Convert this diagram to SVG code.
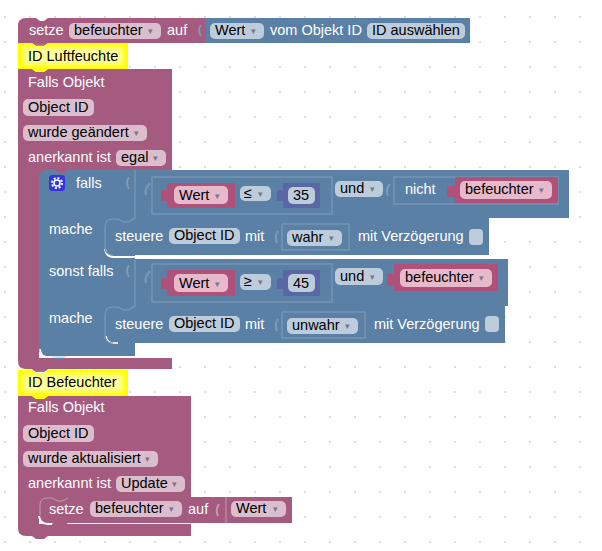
<svg xmlns="http://www.w3.org/2000/svg" width="602" height="551" viewBox="0 0 602 551">
<defs>
<pattern id="grid" width="25" height="25" patternUnits="userSpaceOnUse"><circle cx="5" cy="17" r="1" fill="#d2d2d2"/></pattern>
<filter id="glow" x="-10%" y="-30%" width="120%" height="160%"><feGaussianBlur stdDeviation="2"/></filter>
</defs>
<style>
text{font-family:"Liberation Sans",Arial,sans-serif;font-size:14.5px;fill:#fff}
.d{fill:#000}
.pk{fill:#a55b80}
.bl{fill:#5b80a5}
.pu{fill:#5b67a5}
.hot{fill:#b0517a}
.y{fill:#ffff00}
.fp{fill:#dbbecd}
.fb{fill:#bdccdb}
.fh{fill:#e6b9cb}
.ol{fill:none;stroke:#7c99b7;stroke-width:1.2}
.so{fill:none;stroke:#7c99b7;stroke-width:2}
.hl{fill:none;stroke:#fff;stroke-width:2}
.ar{font-size:9px;fill:#778}
</style>
<rect width="602" height="551" fill="#fff"/>
<rect width="602" height="551" fill="url(#grid)"/>

<g id="set-befeuchter-top">
<path class="pk" d="M26 18H36L40 21H44L48 18H205V43H48L44 46H36L32 43H18V26Q18 18 26 18Z"/>
<path class="bl" d="M205 18H470V43H205Z"/>
<path class="so" d="M201 25Q197 30 201 36"/>
<text x="29" y="35">setze</text>
<rect class="fp" x="69" y="23" width="92" height="16" rx="5"/><text class="d" x="74" y="35">befeuchter</text><text class="ar" x="148" y="34">▾</text>
<text x="167" y="35">auf</text>
<rect class="fb" x="210" y="23" width="54" height="16" rx="5"/><text class="d" x="215" y="35">Wert</text><text class="ar" x="251" y="34">▾</text>
<text x="270" y="35">vom Objekt ID</text>
<rect class="fb" x="367" y="23" width="98" height="16" rx="5"/><text class="d" x="372" y="35">ID auswählen</text>
</g>

<g id="id-luftfeuchte">
<path class="y" d="M18 43H32L36 46H44L48 43H128V69H48L44 72H36L32 69H18Z"/>
<rect x="23" y="47" width="100" height="18" fill="#ffff99" filter="url(#glow)"/>
<text class="d" x="28" y="61">ID Luftfeuchte</text>
</g>

<g id="trigger-luftfeuchte">
<path class="pk" d="M18 69H32L36 72H44L48 69H172V170H72V180H39V358H172V369H48L44 372H36L32 369H26Q18 369 18 361Z"/>
<path class="y" d="M32 69L36 72H44L48 69Z"/>
<text x="28" y="87">Falls Objekt</text>
<rect class="fp" x="23" y="99" width="71" height="17" rx="5"/><text class="d" x="28" y="112">Object ID</text>
<rect class="fp" x="23" y="125" width="124" height="16" rx="5"/><text class="d" x="28" y="137">wurde geändert</text><text class="ar" x="134" y="136">▾</text>
<text x="28" y="162">anerkannt ist</text>
<rect class="fp" x="116" y="150" width="50" height="16" rx="5"/><text class="d" x="121" y="162">egal</text><text class="ar" x="153" y="161">▾</text>
</g>

<g id="if-block">
<path class="bl" d="M47 170H55L59 173H64L68 170H569V218H489V255H135V259H508V306H505V343H135V356H67L63 359H55L51 356H47Q39 356 39 348V178Q39 170 47 170Z"/>
<path class="hl" d="M40 349Q41 357 48 357H135" style="stroke-width:1.5"/>
<path d="M105 249Q106 257 114 257H489" fill="none" stroke="#fff" stroke-width="2"/>
<path d="M106 336Q107 343 114 343H118" fill="none" stroke="#fff" stroke-width="1.5"/>
<path class="ol" d="M135 170V218M135 259V306"/>
<path class="so" d="M129 177Q125 183 129 189M129 265Q125 271 129 277"/>
<rect x="49" y="175" width="16" height="16" rx="3" fill="#3535dd"/>
<circle cx="57" cy="183" r="5" fill="none" stroke="#fff" stroke-width="2" stroke-dasharray="2 1.9"/>
<circle cx="57" cy="183" r="3" fill="none" stroke="#fff" stroke-width="1.6"/>
<text x="76" y="188">falls</text>
<text x="49" y="234">mache</text>
<text x="49" y="276">sonst falls</text>
<text x="49" y="323">mache</text>
</g>

<g id="cond-1">
<rect class="ol" x="152" y="177" width="180" height="37"/>
<path class="so" d="M150 183Q144 190 146 195"/>
<path class="hot" d="M167 183H235V208H167V201H161V190H167Z"/>
<rect class="fh" x="174" y="186" width="54" height="18" rx="5"/><text class="d" x="179" y="200">Wert</text><text class="ar" x="215" y="199">▾</text>
<rect class="fb" x="240" y="186" width="31" height="15" rx="5"/><text class="d" x="244" y="198">≤</text><text class="ar" x="258" y="197">▾</text>
<path class="pu" d="M283 183H320V208H283V201H277V190H283Z"/>
<rect class="fb" x="288" y="187" width="27" height="17" rx="5"/><text class="d" x="293" y="200">35</text>
<rect class="fb" x="335" y="181" width="48" height="16" rx="5"/><text class="d" x="340" y="193">und</text><text class="ar" x="370" y="192">▾</text>
<path class="so" d="M390 184Q385 190 388 196"/>
<rect class="ol" x="394" y="177" width="164" height="27"/>
<text x="405" y="194">nicht</text>
<path class="hot" d="M455 177H558V203H455V197H447V186H455Z"/>
<rect class="fh" x="460" y="181" width="92" height="18" rx="5"/><text class="d" x="465" y="194">befeuchter</text><text class="ar" x="539" y="193">▾</text>
</g>

<g id="steuere-1">
<path class="ol" d="M135 218L128 222H124L118 219H113Q105 219 105 227V247Q105 255 113 255"/>
<text x="115" y="241">steuere</text>
<rect class="fb" x="169" y="228" width="71" height="16" rx="5"/><text class="d" x="174" y="240">Object ID</text>
<text x="245" y="241">mit</text>
<path class="so" d="M278 231Q274 237 277 243"/>
<rect class="ol" x="282" y="224" width="67" height="26"/>
<rect class="fb" x="287" y="230" width="55" height="16" rx="5"/><text class="d" x="292" y="242">wahr</text><text class="ar" x="329" y="241">▾</text>
<text x="358" y="241">mit Verzögerung</text>
<rect class="fb" x="469" y="229" width="14" height="16" rx="4"/>
</g>

<g id="cond-2">
<rect class="ol" x="152" y="264" width="180" height="38"/>
<path class="so" d="M150 271Q144 278 146 283"/>
<path class="hot" d="M167 270H235V296H167V289H161V278H167Z"/>
<rect class="fh" x="174" y="274" width="54" height="18" rx="5"/><text class="d" x="179" y="288">Wert</text><text class="ar" x="215" y="287">▾</text>
<rect class="fb" x="240" y="274" width="31" height="16" rx="5"/><text class="d" x="244" y="286">≥</text><text class="ar" x="258" y="285">▾</text>
<path class="pu" d="M283 270H320V296H283V289H277V278H283Z"/>
<rect class="fb" x="288" y="274" width="27" height="18" rx="5"/><text class="d" x="293" y="288">45</text>
<rect class="fb" x="335" y="268" width="48" height="17" rx="5"/><text class="d" x="340" y="281">und</text><text class="ar" x="370" y="280">▾</text>
<path class="hot" d="M394 264H498V291H394V285H387V274H394Z"/>
<rect class="fh" x="400" y="269" width="92" height="18" rx="5"/><text class="d" x="405" y="282">befeuchter</text><text class="ar" x="479" y="281">▾</text>
</g>

<g id="steuere-2">
<path class="ol" d="M135 306L128 310H124L118 307H113Q105 307 105 315V335Q105 343 113 343"/>
<text x="115" y="329">steuere</text>
<rect class="fb" x="169" y="316" width="71" height="16" rx="5"/><text class="d" x="174" y="328">Object ID</text>
<text x="245" y="329">mit</text>
<path class="so" d="M278 319Q274 325 277 331"/>
<rect class="ol" x="282" y="312" width="83" height="26"/>
<rect class="fb" x="287" y="318" width="71" height="16" rx="5"/><text class="d" x="292" y="330">unwahr</text><text class="ar" x="345" y="329">▾</text>
<text x="374" y="329">mit Verzögerung</text>
<rect class="fb" x="485" y="316" width="14" height="16" rx="4"/>
</g>

<g id="id-befeuchter">
<path class="y" d="M18 370H32L36 373H44L48 370H128V396H48L44 399H36L32 396H18Z"/>
<path class="pk" d="M32 369H48L44 372H36Z"/>
<rect x="23" y="374" width="100" height="18" fill="#ffff99" filter="url(#glow)"/>
<text class="d" x="28" y="387">ID Befeuchter</text>
</g>

<g id="trigger-befeuchter">
<path class="pk" d="M18 396H32L36 399H44L48 396H191V497H72V508H39V524H191V536H48L44 539H36L32 536H26Q18 536 18 528Z"/>
<path class="y" d="M32 396L36 399H44L48 396Z"/>
<text x="28" y="412">Falls Objekt</text>
<rect class="fp" x="23" y="425" width="71" height="17" rx="5"/><text class="d" x="28" y="438">Object ID</text>
<rect class="fp" x="23" y="451" width="135" height="16" rx="5"/><text class="d" x="28" y="463">wurde aktualisiert</text><text class="ar" x="145" y="462">▾</text>
<text x="28" y="488">anerkannt ist</text>
<rect class="fp" x="116" y="476" width="69" height="16" rx="5"/><text class="d" x="121" y="488">Update</text><text class="ar" x="172" y="487">▾</text>
</g>

<g id="set-befeuchter-bottom">
<path class="pk" d="M47 497H52L58 500H62L68 497H292V523H68L64 526H56L52 523H47Q39 523 39 515V505Q39 497 47 497Z"/>
<path d="M39 516Q40 524 48 524H52" fill="none" stroke="#fff" stroke-width="2"/>
<path d="M40 515V505Q40 498 47 498H52L58 501H62L68 498" fill="none" stroke="#c49ab0"/>
<path d="M226 497V523" stroke="#c49ab0" fill="none"/>
<path d="M219 504Q215 510 218 516" fill="none" stroke="#c49ab0" stroke-width="2"/>
<text x="49" y="514">setze</text>
<rect class="fp" x="90" y="501" width="92" height="16" rx="5"/><text class="d" x="95" y="513">befeuchter</text><text class="ar" x="169" y="512">▾</text>
<text x="188" y="514">auf</text>
<rect class="fp" x="231" y="501" width="55" height="16" rx="5"/><text class="d" x="236" y="513">Wert</text><text class="ar" x="273" y="512">▾</text>
</g>
</svg>
